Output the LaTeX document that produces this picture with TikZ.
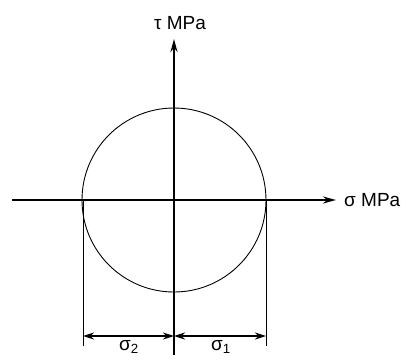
\documentclass[tikz,border=0pt]{standalone}
\usepackage{fontspec}
\setmainfont{Liberation Sans}
\usetikzlibrary{arrows.meta}
\begin{document}
\begin{tikzpicture}[x=1pt,y=-1pt,
  axis/.style={line width=2pt,-{Stealth[length=13pt,width=7pt]}},
  thin line/.style={line width=0.9pt},
  dimline/.style={line width=1.8pt,{Stealth[length=11pt,width=7pt]}-{Stealth[length=11pt,width=7pt]}},
  lbl/.style={inner sep=0pt,font=\fontsize{19}{22}\selectfont}]
\useasboundingbox (0,0) rectangle (409,360);
\coordinate (O) at (174,200);
\coordinate (xs) at (12,200);
\coordinate (xe) at (336,200);
\coordinate (ys) at (174,355);
\coordinate (ye) at (174,39);
\coordinate (L) at (83,200);
\coordinate (R) at (266,200);
\coordinate (Lb) at (83,346);
\coordinate (Rb) at (266,346);
\coordinate (Ld) at (83,336);
\coordinate (Md) at (174,336);
\coordinate (Rd) at (266,336);
\draw[axis] (xs) -- (xe);
\draw[axis] (ys) -- (ye);
\draw[thin line] (O) circle[radius=92];
\draw[thin line] (L) -- (Lb);
\draw[thin line] (R) -- (Rb);
\draw[dimline] (Ld) -- (Md);
\draw[dimline] (Md) -- (Rd);
\node[lbl] (tau) at (180,23) {τ MPa};
\node[lbl,anchor=west] (sig) at (344,200) {σ MPa};
\node[lbl] (s2) at (129,347) {σ\textsubscript{2}};
\node[lbl] (s1) at (221,347) {σ\textsubscript{1}};
\end{tikzpicture}
\end{document}
